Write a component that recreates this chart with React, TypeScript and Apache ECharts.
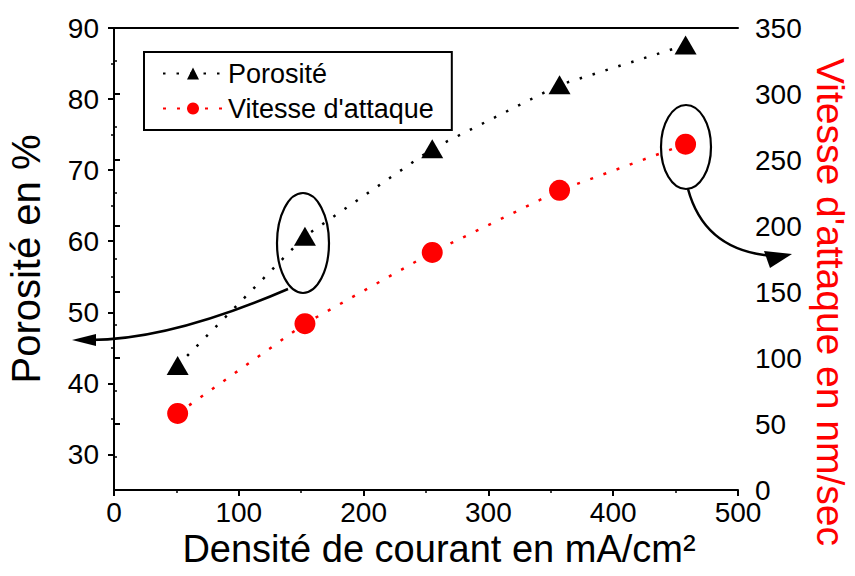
import React, { useEffect, useRef } from "react";
import * as echarts from "echarts";

const densite = [51, 153, 255, 357, 458];
const porosite = [42.5, 60.7, 73, 82, 87.6];
const vitesse = [58, 126, 180, 227, 262];

const leftMajor = [30, 40, 50, 60, 70, 80, 90];
const leftMinor = [35, 45, 55, 65, 75, 85];

const FONT = "Liberation Sans";

export default function App() {
  const ref = useRef<HTMLDivElement>(null);
  useEffect(() => {
    if (!ref.current) return;
    const chart = echarts.init(ref.current, null, { renderer: "svg" });
    const axisLine = { show: true, lineStyle: { color: "#000", width: 2 } };
    const labelStyle = { color: "#000", fontSize: 28, fontFamily: FONT };
    chart.setOption({
      animation: false,
      backgroundColor: "#fff",
      grid: { left: 114, right: 117, top: 28, bottom: 86, containLabel: false, outerBoundsMode: "none" },
      legend: {
        orient: "vertical",
        left: 144,
        top: 52,
        borderColor: "#000",
        borderWidth: 2,
        padding: [8, 18, 8, 18],
        itemWidth: 60,
        itemHeight: 15,
        itemGap: 8,
        textStyle: { color: "#000", fontSize: 27, fontFamily: FONT },
        data: ["Porosité", "Vitesse d'attaque"],
      },
      xAxis: [
        {
          type: "value",
          position: "bottom",
          min: 0,
          max: 500,
          interval: 100,
          name: "Densité de courant en mA/cm²",
          nameLocation: "middle",
          nameGap: 40,
          nameMoveOverlap: false,
          nameTextStyle: { color: "#000", fontSize: 38, fontFamily: FONT, padding: [0, 0, 0, 26] },
          axisLine,
          axisTick: { show: true, length: 6, lineStyle: { color: "#000", width: 2 } },
          minorTick: { show: true, splitNumber: 2, length: 3, lineStyle: { color: "#000", width: 1.5 } },
          axisLabel: { ...labelStyle, margin: 10, lineHeight: 24 },
          splitLine: { show: false },
        },
        {
          type: "value",
          position: "top",
          min: 0,
          max: 500,
          axisLine,
          axisTick: { show: false },
          axisLabel: { show: false },
          splitLine: { show: false },
        },
      ],
      yAxis: [
        {
          type: "value",
          position: "left",
          min: 25,
          max: 90,
          name: "Porosité en %",
          nameLocation: "middle",
          nameGap: 68,
          nameMoveOverlap: false,
          nameTextStyle: { color: "#000", fontSize: 40, fontFamily: FONT },
          axisLine,
          axisTick: { show: true, length: 6, customValues: leftMajor, lineStyle: { color: "#000", width: 2 } },
          axisLabel: { ...labelStyle, margin: 15, customValues: leftMajor },
          splitLine: { show: false },
        },
        {
          type: "value",
          position: "right",
          min: 0,
          max: 350,
          interval: 50,
          name: "Vitesse d'attaque en nm/sec",
          nameLocation: "middle",
          nameRotate: -90,
          nameGap: 73,
          nameMoveOverlap: false,
          nameTextStyle: { color: "#ff0000", fontSize: 39, fontFamily: FONT, padding: [0, 0, 0, 86] },
          axisLine,
          axisTick: { show: true, length: 6, lineStyle: { color: "#000", width: 2 } },
          minorTick: { show: true, splitNumber: 2, length: 3, lineStyle: { color: "#000", width: 1.5 } },
          axisLabel: { ...labelStyle, margin: 17, lineHeight: 22 },
          splitLine: { show: false },
        },
        {
          type: "value",
          position: "left",
          min: 25,
          max: 90,
          axisLine,
          axisTick: { show: true, length: 3, customValues: leftMinor, lineStyle: { color: "#000", width: 1.5 } },
          axisLabel: { show: false },
          splitLine: { show: false },
        },
      ],
      series: [
        {
          name: "Porosité",
          type: "line",
          xAxisIndex: 0,
          yAxisIndex: 0,
          data: densite.map((x, i) => [x, porosite[i]]),
          symbol: "triangle",
          symbolSize: [22, 19],
          itemStyle: { color: "#000" },
          lineStyle: { color: "#000", width: 2.5, type: [2.5, 11] },
          z: 3,
        },
        {
          name: "Vitesse d'attaque",
          type: "line",
          xAxisIndex: 0,
          yAxisIndex: 1,
          data: densite.map((x, i) => [x, vitesse[i]]),
          symbol: "circle",
          symbolSize: 21,
          itemStyle: { color: "#ff0000" },
          lineStyle: { color: "#ff0000", width: 2.5, type: [3, 11] },
          z: 3,
        },
      ],
      graphic: [
        {
          type: "ellipse",
          shape: { cx: 303, cy: 243, rx: 26, ry: 50 },
          style: { fill: "none", stroke: "#000", lineWidth: 2.2 },
          z: 10,
        },
        {
          type: "bezierCurve",
          shape: { x1: 288, y1: 289, cpx1: 170, cpy1: 340, x2: 90, y2: 340 },
          style: { fill: "none", stroke: "#000", lineWidth: 2.5 },
          z: 10,
        },
        {
          type: "polygon",
          shape: { points: [[72, 340], [96, 334], [96, 346]] },
          style: { fill: "#000" },
          z: 10,
        },
        {
          type: "ellipse",
          shape: { cx: 686, cy: 147, rx: 25, ry: 42 },
          style: { fill: "none", stroke: "#000", lineWidth: 2.2 },
          z: 10,
        },
        {
          type: "bezierCurve",
          shape: { x1: 688, y1: 189, cpx1: 705, cpy1: 252, x2: 775, y2: 256 },
          style: { fill: "none", stroke: "#000", lineWidth: 2.5 },
          z: 10,
        },
        {
          type: "polygon",
          shape: { points: [[792, 254], [764, 251], [770, 268]] },
          style: { fill: "#000" },
          z: 10,
        },
      ],
    });
    return () => chart.dispose();
  }, []);
  return <div ref={ref} style={{ width: 855, height: 576, position: "absolute", left: 0, top: 0 }} />;
}
